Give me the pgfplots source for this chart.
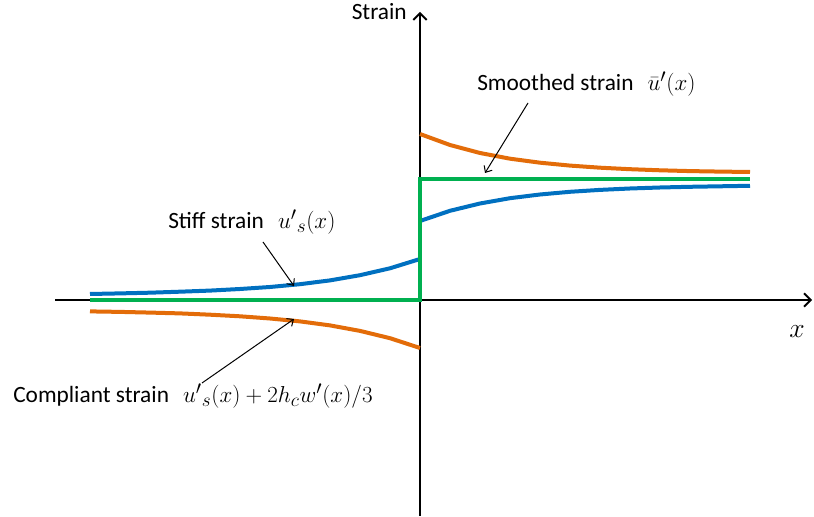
\documentclass[border=0pt]{standalone}
\usepackage{pgfplots}
\pgfplotsset{compat=1.18}
\usepackage{fontspec}
\setmainfont{Carlito}
\usetikzlibrary{arrows.meta}

\definecolor{cblue}{HTML}{0070C0}
\definecolor{corange}{HTML}{E36C09}
\definecolor{cgreen}{HTML}{00B050}

\newcommand{\mathlbl}[1]{{\fontsize{19}{22}\selectfont$#1$}}

\begin{document}
\begin{tikzpicture}
\begin{axis}[
    width=610.5pt, height=387pt,
    scale only axis,
    xmin=-420, xmax=394,
    ymin=-216, ymax=300,
    hide axis,
    clip=false,
]
% invisible frame keeps the page at the reference size
\path (axis cs:-420,-216) rectangle (axis cs:394,300);

% axes
\draw[line width=1.4pt, -{Straight Barb[length=5pt,width=10pt]}]
    (axis cs:-365,0) -- (axis cs:392,0);
\draw[line width=1.4pt, -{Straight Barb[length=5pt,width=10pt]}]
    (axis cs:0,-216) -- (axis cs:0,288);

% compliant strain (orange)
\addplot[color=corange, line width=3pt] coordinates {
    (-330,-11.4) (-300,-11.9) (-270,-12.6) (-240,-13.4) (-210,-14.7)
    (-180,-16.3) (-150,-18.5) (-120,-21.4) (-90,-25.4) (-60,-30.9)
    (-30,-38.2) (0,-48)};
\addplot[color=corange, line width=3pt] coordinates {
    (0,166) (30,155) (60,147) (90,141.3) (120,137.3) (150,134.4)
    (180,132.3) (210,130.8) (240,129.7) (270,128.9) (300,128.4) (330,128.0)};

% stiff strain (blue)
\addplot[color=cblue, line width=3pt] coordinates {
    (-330,6.0) (-300,6.6) (-270,7.3) (-240,8.3) (-210,9.4) (-180,11.0)
    (-150,13.0) (-120,15.8) (-90,19.6) (-60,24.8) (-30,31.7) (0,41)};
\addplot[color=cblue, line width=3pt] coordinates {
    (0,79) (30,89.2) (60,96.5) (90,101.8) (120,105.5) (150,108.2)
    (180,110.1) (210,111.5) (240,112.5) (270,113.2) (300,113.7) (330,114.2)};

% smoothed strain (green)
\addplot[color=cgreen, line width=3pt, line join=miter] coordinates {
    (-330,0) (0,0) (0,121) (330,121)};

% labels
\node[anchor=base east, inner sep=0pt, font=\fontsize{17.5}{20}\selectfont] at (axis cs:-13,280) {Strain};
\node[font=\fontsize{22}{26}\selectfont] at (axis cs:377,-32) {$x$};

\node[anchor=base west, inner sep=0pt, font=\fontsize{17.5}{20}\selectfont] at (axis cs:57,209)
    {Smoothed strain\hspace{0.6em}\mathlbl{\bar{u}'(x)}};
\node[anchor=base west, inner sep=0pt, font=\fontsize{17.5}{20}\selectfont] at (axis cs:-252,71)
    {Stiff strain\hspace{0.6em}\mathlbl{{u'}_{s}(x)}};
\node[anchor=base west, inner sep=0pt, font=\fontsize{17.5}{20}\selectfont] at (axis cs:-407,-103)
    {Compliant strain\hspace{0.6em}\mathlbl{{u'}_{s}(x)+2h_c w'(x)/3}};

% annotation arrows
\draw[line width=0.75pt, -{Straight Barb[length=4pt,width=7pt]}]
    (axis cs:108,197) -- (axis cs:65,127);
\draw[line width=0.75pt, -{Straight Barb[length=4pt,width=7pt]}]
    (axis cs:-157,58) -- (axis cs:-126,14);
\draw[line width=0.75pt, -{Straight Barb[length=4pt,width=7pt]}]
    (axis cs:-218,-83) -- (axis cs:-126,-19);
\end{axis}
\end{tikzpicture}
\end{document}
